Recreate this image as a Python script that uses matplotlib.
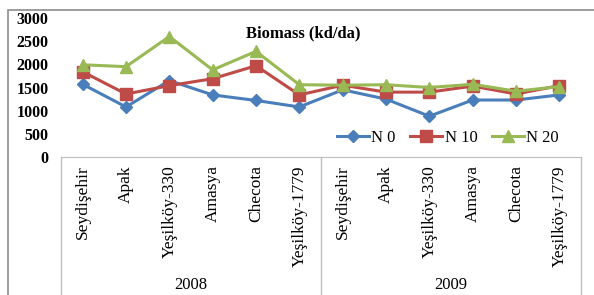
import numpy as np
import matplotlib.pyplot as plt
import matplotlib.transforms as mtransforms
from matplotlib.patches import Rectangle

plt.rcParams['font.family'] = ['Liberation Serif', 'DejaVu Serif']

# Datos
years = ['2008', '2009']
varieties = ['Seydişehir', 'Apak', 'Yeşilköy-330', 'Amasya', 'Checota', 'Yeşilköy-1779']
n0 = [1570, 1080, 1650, 1340, 1220, 1080, 1450, 1250, 880, 1230, 1230, 1340]
n10 = [1840, 1360, 1540, 1690, 1970, 1340, 1550, 1400, 1400, 1530, 1360, 1540]
n20 = [1990, 1950, 2600, 1880, 2280, 1560, 1550, 1560, 1500, 1570, 1420, 1520]

labels = varieties * len(years)
x = np.arange(len(labels))

fig = plt.figure(figsize=(5.94, 2.95), dpi=100)
ax = fig.add_axes([61/594, 1 - 157/295, 520/594, 139/295])

ax.plot(x, n0, color='#4a7ebb', marker='D', markersize=6.5, lw=2.2, label='N 0')
ax.plot(x, n10, color='#be4b48', marker='s', markersize=8, lw=2.2, label='N 10')
ax.plot(x, n20, color='#98b954', marker='^', markersize=9, lw=2.2, label='N 20')

ax.set_xlim(-0.5, len(labels) - 0.5)
ax.set_ylim(0, 3000)
ax.set_yticks(np.arange(0, 3001, 500))
ax.tick_params(axis='y', length=0, pad=9, labelsize=11.5)
for t in ax.get_yticklabels():
    t.set_fontweight('bold')
ax.set_xticks(x)
ax.set_xticklabels(labels, rotation=90, fontsize=12.5)
ax.tick_params(axis='x', length=0, pad=6)

for s in ['top', 'right', 'left']:
    ax.spines[s].set_visible(False)
ax.spines['bottom'].set_color('#bfbfbf')

# lineas de la tabla de categorias
trans = mtransforms.blended_transform_factory(ax.transData, fig.transFigure)
for b in np.arange(0, len(labels) + 1, len(varieties)) - 0.5:
    ax.plot([b, b], [1 - 157/295, -0.1], transform=trans, color='#bfbfbf', lw=1, clip_on=False)
for i, yr in enumerate(years):
    ax.text(i * len(varieties) + (len(varieties) - 1) / 2, 1 - 293/295, yr, transform=trans,
            ha='center', va='bottom', fontsize=12)

fig.text(303/594, 1 - 33/295, 'Biomass (kd/da)', ha='center', va='center', fontsize=12, fontweight='bold')

ax.legend(ncol=3, frameon=False, loc='center', bbox_to_anchor=(448/594, 1 - 138/295),
          bbox_transform=fig.transFigure, fontsize=12, handlelength=1.9,
          handletextpad=0.15, columnspacing=0.9)

fig.add_artist(Rectangle((8/594, -0.1), 1.0, 1.1 - 10/295, transform=fig.transFigure,
                         fill=False, ec='#8c8c8c', lw=1.2))

fig.savefig('out.png', dpi=100)
